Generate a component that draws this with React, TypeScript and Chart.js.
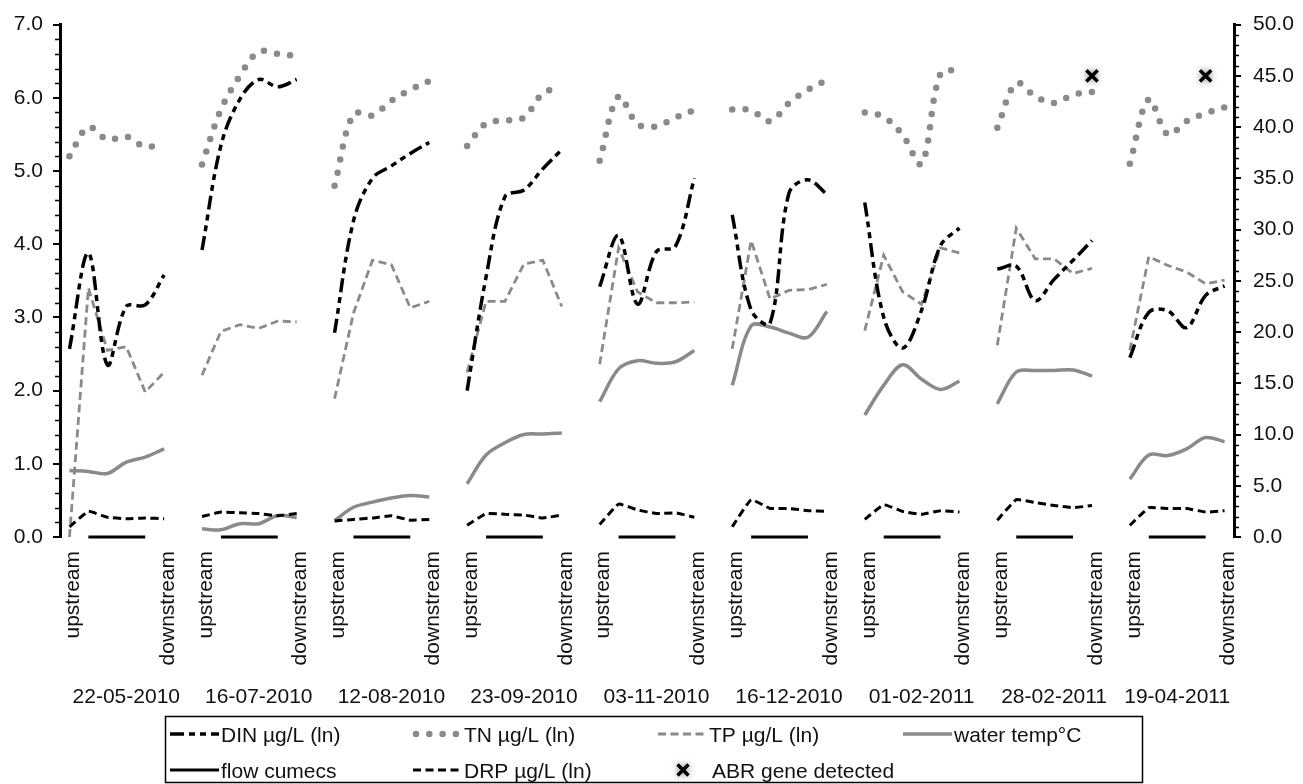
import React, { useEffect, useRef } from "react";
import { Chart, registerables } from "chart.js";

Chart.register(...registerables);

// ---------- data ----------
const dates = [
  "22-05-2010", "16-07-2010", "12-08-2010", "23-09-2010", "03-11-2010",
  "16-12-2010", "01-02-2011", "28-02-2011", "19-04-2011",
];
const siteLabels = ["upstream", "", "", "", "", "downstream"];

// left axis (ln of µg/L)
const dinLn = [
  [2.57, 3.88, 2.35, 3.15, 3.17, 3.58],
  [3.92, 5.35, 5.98, 6.25, 6.15, 6.25],
  [2.79, 4.32, 4.9, 5.07, 5.24, 5.39],
  [2.0, 3.55, 4.65, 4.74, 5.03, 5.29],
  [3.42, 4.12, 3.18, 3.9, 3.97, 4.9],
  [4.4, 3.1, 2.92, 4.7, 4.88, 4.68],
  [4.57, 3.0, 2.58, 3.1, 3.98, 4.22],
  [3.66, 3.7, 3.23, 3.52, 3.78, 4.05],
  [2.45, 3.07, 3.09, 2.86, 3.3, 3.43],
];
const tnLn = [
  [5.2, 5.6, 5.43, 5.47, 5.33, 5.38],
  [5.09, 5.84, 6.3, 6.63, 6.6, 6.57],
  [4.8, 5.78, 5.76, 5.96, 6.11, 6.23],
  [5.34, 5.65, 5.69, 5.73, 6.06, 6.15],
  [5.14, 6.02, 5.64, 5.61, 5.73, 5.83],
  [5.84, 5.83, 5.68, 5.93, 6.11, 6.24],
  [5.8, 5.74, 5.49, 5.1, 6.33, 6.38],
  [5.59, 6.2, 6.02, 5.93, 6.04, 6.08],
  [5.1, 5.98, 5.5, 5.68, 5.79, 5.87],
];
const tpLn = [
  [0.0, 3.4, 2.55, 2.6, 1.98, 2.25],
  [2.21, 2.81, 2.9, 2.85, 2.95, 2.94],
  [1.89, 3.06, 3.78, 3.72, 3.13, 3.22],
  [2.25, 3.22, 3.22, 3.73, 3.78, 3.15],
  [2.36, 3.95, 3.35, 3.2, 3.2, 3.21],
  [2.57, 4.05, 3.25, 3.37, 3.38, 3.45],
  [2.82, 3.85, 3.35, 3.18, 3.95, 3.88],
  [2.62, 4.22, 3.8, 3.8, 3.6, 3.67],
  [2.55, 3.83, 3.71, 3.62, 3.46, 3.51],
];
const drpLn = [
  [0.14, 0.35, 0.27, 0.25, 0.26, 0.25],
  [0.28, 0.34, 0.33, 0.32, 0.29, 0.32],
  [0.22, 0.24, 0.26, 0.29, 0.23, 0.24],
  [0.16, 0.32, 0.31, 0.3, 0.26, 0.3],
  [0.17, 0.45, 0.37, 0.32, 0.33, 0.27],
  [0.14, 0.51, 0.39, 0.39, 0.36, 0.35],
  [0.24, 0.44, 0.35, 0.31, 0.36, 0.34],
  [0.23, 0.51, 0.47, 0.43, 0.4, 0.43],
  [0.16, 0.4, 0.39, 0.39, 0.34, 0.36],
];
const flowCumecs = [
  [null, 0, 0, 0, 0, null],
  [null, 0, 0, 0, 0, null],
  [null, 0, 0, 0, 0, null],
  [null, 0, 0, 0, 0, null],
  [null, 0, 0, 0, 0, null],
  [null, 0, 0, 0, 0, null],
  [null, 0, 0, 0, 0, null],
  [null, 0, 0, 0, 0, null],
  [null, 0, 0, 0, 0, null],
];
// right axis (°C)
const waterTemp = [
  [6.5, 6.4, 6.2, 7.3, 7.8, 8.6],
  [0.8, 0.7, 1.3, 1.3, 2.1, 1.9],
  [1.6, 2.9, 3.4, 3.8, 4.05, 3.9],
  [5.2, 8.0, 9.2, 10.0, 10.05, 10.15],
  [13.2, 16.4, 17.2, 16.95, 17.1, 18.2],
  [14.8, 20.6, 20.5, 19.9, 19.5, 22.0],
  [11.9, 14.8, 16.8, 15.4, 14.4, 15.2],
  [13.0, 16.1, 16.25, 16.25, 16.3, 15.7],
  [5.65, 8.0, 7.95, 8.6, 9.7, 9.3],
];
// ABR gene detected: [date index, site index], drawn at right-axis level
const abrDetected = [
  [7, 5],
  [8, 4],
];
const abrLevel = 45;

const leftTicks = { min: 0, max: 7, step: 1, minor: 0.2 };
const rightTicks = { min: 0, max: 50, step: 5, minor: 1 };

// ---------- layout / style ----------
const SITES = siteLabels.length;
const STRIDE = SITES + 1; // one empty category between sampling dates
const lastIndex = (dates.length - 1) * STRIDE + SITES - 1;
const FONT = '"Liberation Sans", Arial, Helvetica, sans-serif';
const INK = "#111111";
const GRAY = "#8a8a8a";

const styles = {
  din: { color: "#000000", width: 3.5, dash: [14, 5, 6, 5, 6, 5], cap: "butt" as CanvasLineCap, tension: 0.35 },
  tn: { color: GRAY, width: 6.5, dash: [0, 13.3], cap: "round" as CanvasLineCap, tension: 0.35 },
  tp: { color: GRAY, width: 2.8, dash: [8, 4.5], cap: "butt" as CanvasLineCap, tension: 0 },
  temp: { color: GRAY, width: 3.5, dash: [] as number[], cap: "butt" as CanvasLineCap, tension: 0.35 },
  flow: { color: "#000000", width: 3, dash: [] as number[], cap: "butt" as CanvasLineCap, tension: 0 },
  drp: { color: "#000000", width: 3, dash: [8, 4.5], cap: "butt" as CanvasLineCap, tension: 0.1 },
};

function toPoints(groups: (number | null)[][]) {
  const pts: { x: number; y: number | null }[] = [];
  groups.forEach((g, k) => {
    g.forEach((v, j) => pts.push({ x: k * STRIDE + j, y: v }));
    if (k < groups.length - 1) pts.push({ x: k * STRIDE + SITES, y: null });
  });
  return pts;
}

function lineDs(label: string, groups: (number | null)[][], st: any, axis: string) {
  return {
    type: "line" as const,
    label,
    data: toPoints(groups),
    yAxisID: axis,
    borderColor: st.color,
    borderWidth: st.width,
    borderDash: st.dash,
    borderCapStyle: st.cap,
    tension: st.tension,
    pointRadius: 0,
    spanGaps: false,
    fill: false,
    clip: false as any,
  };
}

const tickPositions: number[] = [];
dates.forEach((_, k) =>
  siteLabels.forEach((s, j) => {
    if (s) tickPositions.push(k * STRIDE + j);
  })
);

function drawCross(ctx: CanvasRenderingContext2D, x: number, y: number, h: number) {
  ctx.save();
  ctx.shadowColor = "rgba(0,0,0,0.45)";
  ctx.shadowBlur = 6;
  ctx.strokeStyle = "#000";
  ctx.lineWidth = 3.5;
  ctx.beginPath();
  ctx.moveTo(x - h, y - h);
  ctx.lineTo(x + h, y + h);
  ctx.moveTo(x + h, y - h);
  ctx.lineTo(x - h, y + h);
  ctx.stroke();
  ctx.restore();
}

function drawSample(ctx: CanvasRenderingContext2D, st: any, x0: number, x1: number, y: number) {
  ctx.save();
  ctx.strokeStyle = st.color;
  ctx.lineWidth = st.width;
  ctx.setLineDash(st.dash);
  ctx.lineCap = st.cap;
  ctx.beginPath();
  ctx.moveTo(x0, y);
  ctx.lineTo(x1, y);
  ctx.stroke();
  ctx.restore();
}

const legendItems = [
  { label: "DIN \u00b5g/L (ln)", st: styles.din, row: 0, col: 0 },
  { label: "TN \u00b5g/L (ln)", st: styles.tn, row: 0, col: 1 },
  { label: "TP \u00b5g/L (ln)", st: styles.tp, row: 0, col: 2 },
  { label: "water temp\u00b0C", st: styles.temp, row: 0, col: 3 },
  { label: "flow cumecs", st: styles.flow, row: 1, col: 0 },
  { label: "DRP \u00b5g/L (ln)", st: styles.drp, row: 1, col: 1 },
  { label: "ABR gene detected", st: null, row: 1, col: 2 },
];

const decorPlugin = {
  id: "decor",
  beforeDatasetDraw(chart: any, args: any) {
    if (chart.data.datasets[args.index].label === "ABR gene detected") {
      chart.ctx.save();
      chart.ctx.shadowColor = "rgba(0,0,0,0.45)";
      chart.ctx.shadowBlur = 6;
    }
  },
  afterDatasetDraw(chart: any, args: any) {
    if (chart.data.datasets[args.index].label === "ABR gene detected") chart.ctx.restore();
  },
  afterDraw(chart: any) {
    const ctx: CanvasRenderingContext2D = chart.ctx;
    const xs = chart.scales.x;
    const yl = chart.scales.y;
    const yr = chart.scales.y1;
    // minor ticks
    ctx.save();
    ctx.strokeStyle = "#000";
    ctx.lineWidth = 1.6;
    ctx.beginPath();
    const nL = Math.round((leftTicks.max - leftTicks.min) / leftTicks.minor);
    const perL = Math.round(leftTicks.step / leftTicks.minor);
    for (let n = 1; n < nL; n++) {
      if (n % perL === 0) continue;
      const py = Math.round(yl.getPixelForValue(leftTicks.min + n * leftTicks.minor)) + 0.5;
      ctx.moveTo(yl.right - 5, py);
      ctx.lineTo(yl.right, py);
    }
    const nR = Math.round((rightTicks.max - rightTicks.min) / rightTicks.minor);
    const perR = Math.round(rightTicks.step / rightTicks.minor);
    for (let n = 1; n < nR; n++) {
      if (n % perR === 0) continue;
      const py = Math.round(yr.getPixelForValue(rightTicks.min + n * rightTicks.minor)) + 0.5;
      ctx.moveTo(yr.left, py);
      ctx.lineTo(yr.left + 5, py);
    }
    ctx.stroke();
    ctx.restore();

    // date (group) labels
    ctx.save();
    ctx.font = `21px ${FONT}`;
    ctx.fillStyle = INK;
    ctx.textAlign = "center";
    ctx.textBaseline = "alphabetic";
    dates.forEach((d, k) => {
      const start = k * STRIDE - 0.5;
      const end = Math.min(k * STRIDE + STRIDE - 0.5, lastIndex + 0.5);
      ctx.fillText(d, xs.getPixelForValue((start + end) / 2), 703);
    });
    ctx.restore();

    // legend
    const box = { left: 165, top: 716, right: 1142, bottom: 783 };
    const colX = [170, 413, 658, 903];
    const rowY = [734, 770];
    ctx.save();
    ctx.strokeStyle = "#000";
    ctx.lineWidth = 1.5;
    ctx.strokeRect(box.left + 0.5, box.top + 0.5, box.right - box.left, box.bottom - box.top - 1);
    ctx.font = `21px ${FONT}`;
    ctx.fillStyle = INK;
    ctx.textAlign = "left";
    ctx.textBaseline = "alphabetic";
    legendItems.forEach((it) => {
      const x0 = colX[it.col];
      const y = rowY[it.row];
      if (it.st) {
        drawSample(ctx, it.st, x0 + (it.st === styles.tn ? 3 : 0), x0 + 49, y);
        ctx.fillText(it.label, x0 + 51, y + 7.5);
      } else {
        drawCross(ctx, x0 + 25, y, 5.5);
        ctx.fillText(it.label, x0 + 54, y + 7.5);
      }
    });
    ctx.restore();
  },
};

export default function App() {
  const ref = useRef<HTMLCanvasElement | null>(null);

  useEffect(() => {
    if (!ref.current) return;
    Chart.defaults.font.family = FONT;
    Chart.defaults.font.size = 21;
    Chart.defaults.color = INK;

    const abrPoints = abrDetected.map(([k, j]) => ({ x: k * STRIDE + j, y: abrLevel }));

    const chart = new Chart(ref.current, {
      type: "line",
      data: {
        datasets: [
          {
            type: "line",
            label: "ABR gene detected",
            data: abrPoints,
            yAxisID: "y1",
            showLine: false,
            pointStyle: "crossRot",
            pointRadius: 8,
            pointBorderWidth: 3.5,
            pointBorderColor: "#000",
            pointBackgroundColor: "#000",
            clip: false as any,
          } as any,
          lineDs("DIN \u00b5g/L (ln)", dinLn, styles.din, "y"),
          lineDs("DRP \u00b5g/L (ln)", drpLn, styles.drp, "y"),
          lineDs("flow cumecs", flowCumecs, styles.flow, "y"),
          lineDs("TN \u00b5g/L (ln)", tnLn, styles.tn, "y"),
          lineDs("TP \u00b5g/L (ln)", tpLn, styles.tp, "y"),
          lineDs("water temp\u00b0C", waterTemp, styles.temp, "y1"),
        ] as any,
      },
      options: {
        animation: false,
        responsive: false,
        devicePixelRatio: 1,
        layout: { padding: { top: 18, left: 0, right: 0, bottom: 0 } },
        plugins: { legend: { display: false }, tooltip: { enabled: false } },
        elements: { point: { radius: 0 } },
        scales: {
          x: {
            type: "linear",
            min: -0.5,
            max: lastIndex + 0.5,
            grid: { display: false, drawTicks: false },
            border: { display: false },
            afterBuildTicks: (s: any) => {
              s.ticks = tickPositions.map((v) => ({ value: v }));
            },
            afterFit: (s: any) => {
              s.height = 247;
            },
            ticks: {
              autoSkip: false,
              minRotation: 90,
              maxRotation: 90,
              padding: 14,
              labelOffset: 4,
              color: INK,
              font: { size: 21, family: FONT },
              callback: (v: any) => siteLabels[Math.round(v) % STRIDE] || "",
            },
          },
          y: {
            position: "left",
            min: leftTicks.min,
            max: leftTicks.max,
            afterFit: (s: any) => {
              s.width = 60;
            },
            ticks: {
              stepSize: leftTicks.step,
              padding: 10,
              color: INK,
              font: { size: 21, family: FONT },
              callback: (v: any) => Number(v).toFixed(1),
            },
            grid: { drawOnChartArea: false, drawTicks: true, tickLength: 7, tickWidth: 2, tickColor: "#000", lineWidth: 2, color: "#000" },
            border: { display: true, color: "#000", width: 3 },
          },
          y1: {
            position: "right",
            min: rightTicks.min,
            max: rightTicks.max,
            afterFit: (s: any) => {
              s.width = 69;
            },
            ticks: {
              stepSize: rightTicks.step,
              padding: 12,
              color: INK,
              font: { size: 21, family: FONT },
              callback: (v: any) => Number(v).toFixed(1),
            },
            grid: { drawOnChartArea: false, drawTicks: true, tickLength: 7, tickWidth: 2, tickColor: "#000", lineWidth: 2, color: "#000" },
            border: { display: true, color: "#000", width: 3 },
          },
        },
      } as any,
      plugins: [decorPlugin],
    });
    return () => chart.destroy();
  }, []);

  return (
    <div style={{ position: "absolute", left: 0, top: 0, width: 1303, height: 784, background: "#ffffff" }}>
      <canvas ref={ref} width={1303} height={784} style={{ display: "block", width: 1303, height: 784 }} />
    </div>
  );
}
